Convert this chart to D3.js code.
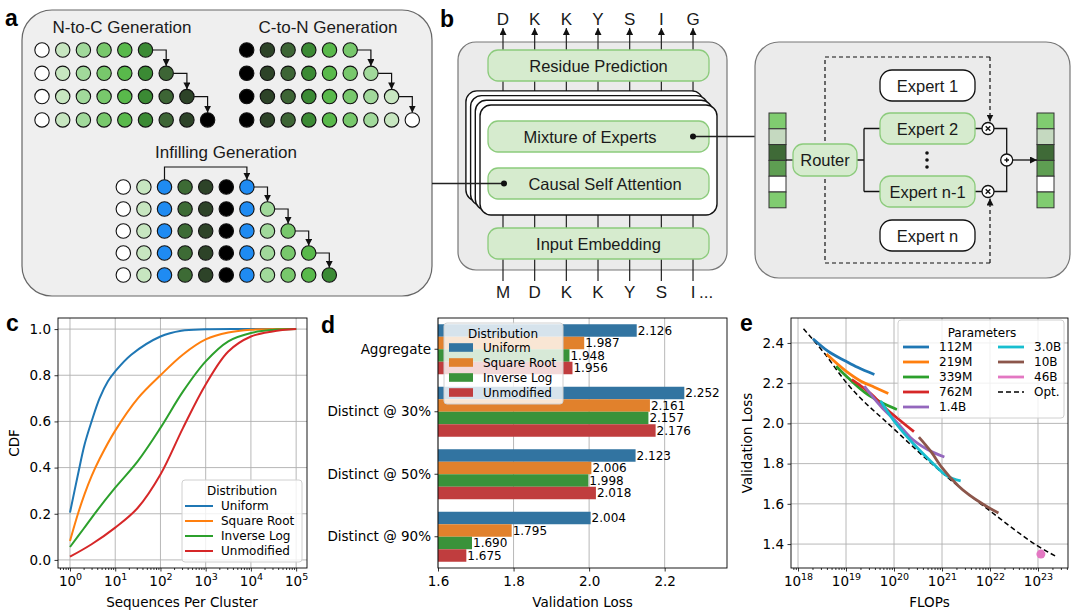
<!DOCTYPE html>
<meta charset="utf-8">
<style>
body { margin: 0; background: #fff; }
svg { display: block; }
.diag text { font-family: "Liberation Sans", Arial, sans-serif; fill: #1a1a1a; }
.plot text { font-family: "DejaVu Sans", sans-serif; fill: #000; }
.lbl { font-family: "Liberation Sans", Arial, sans-serif; font-weight: bold; font-size: 23px; fill: #000; }
</style>
<body>
<svg id="fig" width="1080" height="616"></svg>
<script src="https://d3js.org/d3.v7.min.js"></script>
<script>
"use strict";

// ---- panel c : cluster size CDF ----
var cdfNames = ["Uniform", "Square Root", "Inverse Log", "Unmodified"];
var cdfUniform = [[1,0.205],[1.5,0.37],[2.1,0.5],[3,0.6],[4.5,0.7],[6.9,0.774],[10,0.817],[22.6,0.889],[100,0.968],[290,0.993],[1000,0.999],[1e4,1],[1e5,1]];
var cdfSqrt = [[1,0.082],[1.5,0.2],[2.1,0.285],[3,0.363],[4.5,0.437],[10,0.56],[31.6,0.70],[100,0.80],[316,0.89],[1000,0.955],[3160,0.985],[1e4,0.997],[1e5,1]];
var cdfInvLog = [[1,0.056],[2,0.135],[4,0.215],[10,0.313],[31.6,0.428],[100,0.572],[316,0.73],[1000,0.86],[3160,0.947],[1e4,0.983],[3e4,0.996],[1e5,1]];
var cdfUnmod = [[1,0.014],[3,0.068],[10,0.14],[31.6,0.226],[100,0.37],[316,0.572],[1000,0.76],[3160,0.903],[1e4,0.968],[3e4,0.99],[1e5,1]];
var cdfXTicks = [1, 10, 100, 1e3, 1e4, 1e5];
var cdfYTicks = [0, 0.2, 0.4, 0.6, 0.8, 1.0];

// ---- panel d : validation loss per split ----
var lossGroups = ["Aggregate", "Distinct @ 30%", "Distinct @ 50%", "Distinct @ 90%"];
var lossUniform = [2.126, 2.252, 2.123, 2.004];
var lossSqrt = [1.987, 2.161, 2.006, 1.795];
var lossInvLog = [1.948, 2.157, 1.998, 1.690];
var lossUnmod = [1.956, 2.176, 2.018, 1.675];
var lossTicks = [1.6, 1.8, 2.0, 2.2];

// ---- panel e : loss vs compute ----
var paramNames = ["112M", "219M", "339M", "762M", "1.4B", "3.0B", "10B", "46B"];
var run112M = [[2.04e18,2.421],[4.2e18,2.359],[1e19,2.309],[1.74e19,2.279],[3.9e19,2.243]];
var run219M = [[3.9e18,2.345],[1e19,2.26],[2.05e19,2.21],[3.9e19,2.18],[7.6e19,2.149]];
var run339M = [[6.2e18,2.284],[9.3e18,2.243],[2.8e19,2.144],[4.9e19,2.11],[1.15e20,2.069]];
var run762M = [[1.32e19,2.218],[3.3e19,2.147],[6.3e19,2.08],[1.38e20,2.012],[2.6e20,1.959]];
var run1p4B = [[2.4e19,2.185],[5.25e19,2.086],[1.2e20,2.0],[2.2e20,1.93],[4.9e20,1.871],[1.12e21,1.833]];
var run3p0B = [[5.25e19,2.111],[1e20,2.012],[2.6e20,1.896],[5.75e20,1.813],[1.26e21,1.739],[2.45e21,1.714]];
var run10B = [[3.3e20,1.932],[5.75e20,1.863],[1e21,1.78],[2.2e21,1.689],[7.9e21,1.592],[1.5e22,1.554]];
var run46B = [[1.15e23,1.35]];
var optFrontier = [[1.3e18,2.471],[3.5e18,2.35],[1e19,2.205],[1e20,1.972],[1e21,1.755],[1e22,1.565],[1e23,1.39],[2.35e23,1.339]];
var flopTicks = [1e18, 1e19, 1e20, 1e21, 1e22, 1e23];
var lossYTicks = [1.4, 1.6, 1.8, 2.0, 2.2, 2.4];

var tab10 = ["#1f77b4", "#ff7f0e", "#2ca02c", "#d62728", "#9467bd", "#17becf", "#8c564b", "#e377c2"];
var muted = ["#3274a1", "#e1812c", "#3a923a", "#c03d3e"];

var svg = d3.select("#fig");
var defs = svg.append("defs");
defs.append("marker").attr("id", "arr")
  .attr("viewBox", "0 0 10 10").attr("refX", 10).attr("refY", 5)
  .attr("markerWidth", 7).attr("markerHeight", 7)
  .attr("markerUnits", "userSpaceOnUse").attr("orient", "auto")
  .append("path").attr("d", "M0,0L10,5L0,10z").attr("fill", "#111");

function panelLabel(t, x, y) {
  svg.append("text").attr("class", "lbl").attr("x", x).attr("y", y).text(t);
}

/* ================= panel a ================= */
var ga = svg.append("g").attr("class", "diag");
ga.append("rect").attr("x", 22).attr("y", 10).attr("width", 410).attr("height", 286)
  .attr("rx", 30).attr("fill", "#efefef").attr("stroke", "#666").attr("stroke-width", 1.2);

var greens = ["#ffffff", "#c7e6c0", "#a1d99b", "#78c86c", "#59b94b", "#3b8a34", "#3d6535", "#2d4328", "#000000"];
var blue = "#1f8bf2";
var infillHead = ["#ffffff", "#c7e6c0", blue, "#3d6b35", "#2d4328", "#000000", blue];
var infillTail = ["#a1d99b", "#78c86c", "#59b94b", "#3b8a34"];
var R = 7.2;

function dotGrid(g, x0, y0, dx, dy, rows) {
  rows.forEach(function (cols, ri) {
    var cy = y0 + ri * dy;
    if (ri < rows.length - 1) {
      var n = cols.length - 1;
      g.append("path")
        .attr("d", "M" + (x0 + n * dx + R) + "," + cy + "H" + (x0 + (n + 1) * dx) + "V" + (cy + dy - R))
        .attr("fill", "none").attr("stroke", "#111").attr("stroke-width", 1.2)
        .attr("marker-end", "url(#arr)");
    }
    cols.forEach(function (c, ci) {
      g.append("circle").attr("cx", x0 + ci * dx).attr("cy", cy).attr("r", R)
        .attr("fill", c).attr("stroke", "#111").attr("stroke-width", 1.1);
    });
  });
}

var nToC = [0, 1, 2, 3].map(function (i) { return greens.slice(0, 6 + i); });
var rev = greens.slice().reverse();
var cToN = [0, 1, 2, 3].map(function (i) { return rev.slice(0, 6 + i); });
var infill = [0, 1, 2, 3, 4].map(function (i) { return infillHead.concat(infillTail.slice(0, i)); });

ga.append("text").attr("x", 122).attr("y", 33).attr("text-anchor", "middle").attr("font-size", 17).text("N-to-C Generation");
ga.append("text").attr("x", 328).attr("y", 33).attr("text-anchor", "middle").attr("font-size", 17).text("C-to-N Generation");
ga.append("text").attr("x", 226).attr("y", 158).attr("text-anchor", "middle").attr("font-size", 17).text("Infilling Generation");
dotGrid(ga, 42, 50, 20.7, 23.3, nToC);
dotGrid(ga, 246.7, 50, 20.7, 23.3, cToN);
// infilling: jump from the first masked span to its end
ga.append("path")
  .attr("d", "M" + (123.3 + 2 * 20.6) + "," + (187 - R) + "V167H" + (123.3 + 6 * 20.6) + "V" + (187 - R))
  .attr("fill", "none").attr("stroke", "#111").attr("stroke-width", 1.2).attr("marker-end", "url(#arr)");
dotGrid(ga, 123.3, 187, 20.6, 22, infill);
panelLabel("a", 5, 26);

/* ================= panel b ================= */
var gb = svg.append("g").attr("class", "diag");
var outTok = ["D", "K", "K", "Y", "S", "I", "G"];
var inTok = ["M", "D", "K", "K", "Y", "S", "I"];
var tokX = function (i) { return 503 + i * 31.67; };
var boxGreen = "#d6ebce", edgeGreen = "#8ccb7c";

gb.append("rect").attr("x", 458).attr("y", 42).attr("width", 269).attr("height", 228)
  .attr("rx", 18).attr("fill", "#ebebeb").attr("stroke", "#777").attr("stroke-width", 1.2);
outTok.forEach(function (t, i) {
  gb.append("line").attr("x1", tokX(i)).attr("x2", tokX(i)).attr("y1", 92).attr("y2", 28)
    .attr("stroke", "#222").attr("stroke-width", 1.2).attr("marker-end", "url(#arr)");
  gb.append("text").attr("x", tokX(i)).attr("y", 25).attr("text-anchor", "middle").attr("font-size", 17).text(t);
});
inTok.forEach(function (t, i) {
  gb.append("line").attr("x1", tokX(i)).attr("x2", tokX(i)).attr("y1", 214).attr("y2", 281)
    .attr("stroke", "#222").attr("stroke-width", 1.2);
  gb.append("text").attr("x", tokX(i)).attr("y", 298).attr("text-anchor", "middle").attr("font-size", 17).text(t);
});
gb.append("text").attr("x", tokX(6) + 6).attr("y", 298).attr("font-size", 17).text("...");

function greenBox(g, x, y, w, h, label, tx) {
  g.append("rect").attr("x", x).attr("y", y).attr("width", w).attr("height", h).attr("rx", 10)
    .attr("fill", boxGreen).attr("stroke", edgeGreen).attr("stroke-width", 1.3);
  if (label) g.append("text").attr("x", tx == null ? x + w / 2 : tx).attr("y", y + h / 2 + 6)
    .attr("text-anchor", "middle").attr("font-size", 16.5).text(label);
}
greenBox(gb, 488, 50, 221, 31, "Residue Prediction");
[3, 2, 1, 0].forEach(function (k) {
  gb.append("rect").attr("x", 480 - 4.7 * k).attr("y", 105 - 4.7 * k).attr("width", 237).attr("height", 110)
    .attr("rx", 11).attr("fill", "#fff").attr("stroke", "#111").attr("stroke-width", 1.4);
});
greenBox(gb, 488, 121, 221, 31, "Mixture of Experts", 590);
greenBox(gb, 488, 168, 221, 31, "Causal Self Attention", 605);
greenBox(gb, 488, 228, 221, 31, "Input Embedding");

// connectors a -> b and b -> MoE detail
gb.append("line").attr("x1", 432).attr("x2", 504).attr("y1", 183.5).attr("y2", 183.5).attr("stroke", "#222").attr("stroke-width", 1.3);
gb.append("circle").attr("cx", 504).attr("cy", 183.5).attr("r", 3).attr("fill", "#111");
gb.append("line").attr("x1", 693).attr("x2", 755).attr("y1", 136.5).attr("y2", 136.5).attr("stroke", "#222").attr("stroke-width", 1.3);
gb.append("circle").attr("cx", 693).attr("cy", 136.5).attr("r", 3).attr("fill", "#111");
panelLabel("b", 440, 27);

/* ================= MoE detail ================= */
var gm = svg.append("g").attr("class", "diag");
gm.append("rect").attr("x", 755).attr("y", 42).attr("width", 315).attr("height", 236)
  .attr("rx", 24).attr("fill", "#ebebeb").attr("stroke", "#777").attr("stroke-width", 1.2);
gm.append("path").attr("d", "M990,57H825V263H990")
  .attr("fill", "none").attr("stroke", "#111").attr("stroke-width", 1.2).attr("stroke-dasharray", "4,3");
gm.append("path").attr("d", "M990,57V121.5")
  .attr("fill", "none").attr("stroke", "#111").attr("stroke-width", 1.2).attr("stroke-dasharray", "4,3").attr("marker-end", "url(#arr)");
gm.append("path").attr("d", "M990,263V198.5")
  .attr("fill", "none").attr("stroke", "#111").attr("stroke-width", 1.2).attr("stroke-dasharray", "4,3").attr("marker-end", "url(#arr)");

var tokCells = ["#80cc70", "#c5d9c0", "#3f6a37", "#5e9e52", "#ffffff", "#80cc70"];
[769, 1037].forEach(function (x) {
  tokCells.forEach(function (c, i) {
    gm.append("rect").attr("x", x).attr("y", 113 + i * 15.8).attr("width", 17).attr("height", 15.8)
      .attr("fill", c).attr("stroke", "#333").attr("stroke-width", 1);
  });
});
var wire = function (d) {
  gm.append("path").attr("d", d).attr("fill", "none").attr("stroke", "#111").attr("stroke-width", 1.3);
};
wire("M786,160H793");
wire("M857,160H864M864,128.5V191.5M864,128.5H880M864,191.5H880");
wire("M975,128.5H982M975,191.5H982");
wire("M994,128.5H1006.7V154M994,191.5H1006.7V166");
gm.append("path").attr("d", "M1012.7,160H1037").attr("stroke", "#111").attr("stroke-width", 1.3).attr("marker-end", "url(#arr)");

greenBox(gm, 793, 144, 64, 32, "Router");
function whiteBox(y, label) {
  gm.append("rect").attr("x", 880).attr("y", y).attr("width", 95).attr("height", 31).attr("rx", 12)
    .attr("fill", "#fff").attr("stroke", "#111").attr("stroke-width", 1.3);
  gm.append("text").attr("x", 927.5).attr("y", y + 21.5).attr("text-anchor", "middle").attr("font-size", 16.5).text(label);
}
whiteBox(70, "Expert 1");
greenBox(gm, 880, 113, 95, 31, "Expert 2");
greenBox(gm, 880, 176, 95, 31, "Expert n-1");
whiteBox(220, "Expert n");
[153, 160, 167].forEach(function (y) {
  gm.append("circle").attr("cx", 927).attr("cy", y).attr("r", 1.8).attr("fill", "#111");
});
function opCircle(x, y, plus) {
  gm.append("circle").attr("cx", x).attr("cy", y).attr("r", 6).attr("fill", "#fff").attr("stroke", "#111").attr("stroke-width", 1.3);
  var s = 2.3;
  var d = plus ? "M" + (x - s) + "," + y + "H" + (x + s) + "M" + x + "," + (y - s) + "V" + (y + s)
               : "M" + (x - s) + "," + (y - s) + "L" + (x + s) + "," + (y + s) + "M" + (x + s) + "," + (y - s) + "L" + (x - s) + "," + (y + s);
  gm.append("path").attr("d", d).attr("stroke", "#111").attr("stroke-width", 1.4);
}
opCircle(988, 128.5, false);
opCircle(988, 191.5, false);
opCircle(1006.7, 160, true);

/* ================= shared axis helpers ================= */
function styleAxis(g, fs) {
  g.select(".domain").remove();
  g.selectAll(".tick line").attr("stroke", "#000").attr("stroke-width", 0.8);
  g.selectAll(".tick text").attr("fill", "#000").attr("font-size", fs || 13.5).attr("font-family", "DejaVu Sans");
}
function powLabels(g) {
  g.selectAll(".tick text").text(null).each(function (d) {
    var t = d3.select(this);
    t.append("tspan").text("10");
    t.append("tspan").attr("font-size", "9.5px").attr("dy", "-0.62em").text(Math.round(Math.log10(d)));
  });
}
function minorVals(scale) {
  var dom = scale.domain(), out = [];
  for (var e = Math.floor(Math.log10(dom[0])); e <= Math.ceil(Math.log10(dom[1])); e++) {
    for (var k = 2; k < 10; k++) {
      var v = k * Math.pow(10, e);
      if (v >= dom[0] && v <= dom[1]) out.push(v);
    }
  }
  return out;
}
function frame(g, x0, y0, x1, y1) {
  g.append("rect").attr("x", x0).attr("y", y0).attr("width", x1 - x0).attr("height", y1 - y0)
    .attr("fill", "none").attr("stroke", "#000").attr("stroke-width", 0.9);
}
function gridLines(g, xs, ys, x, y) {
  var xr = x.range(), yr = y.range();
  g.selectAll(null).data(xs).join("line")
    .attr("x1", function (d) { return x(d); }).attr("x2", function (d) { return x(d); })
    .attr("y1", yr[0]).attr("y2", yr[1]).attr("stroke", "#b0b0b0").attr("stroke-width", 0.9);
  g.selectAll(null).data(ys).join("line")
    .attr("y1", function (d) { return y(d); }).attr("y2", function (d) { return y(d); })
    .attr("x1", xr[0]).attr("x2", xr[1]).attr("stroke", "#b0b0b0").attr("stroke-width", 0.9);
}

/* ================= panel c ================= */
var gc = svg.append("g").attr("class", "plot");
var cx = d3.scaleLog().domain([0.543, 173800]).range([58, 307]);
var cy = d3.scaleLinear().domain([-0.035, 1.048]).range([568, 318]);
gridLines(gc, cdfXTicks, cdfYTicks, cx, cy);
var cLine = d3.line().x(function (d) { return cx(d[0]); }).y(function (d) { return cy(d[1]); })
  .curve(d3.curveCatmullRom.alpha(0.5));
[cdfUniform, cdfSqrt, cdfInvLog, cdfUnmod].forEach(function (s, i) {
  gc.append("path").attr("d", cLine(s)).attr("fill", "none").attr("stroke", tab10[i]).attr("stroke-width", 2);
});
frame(gc, 58, 318, 307, 568);
var cAxX = gc.append("g").attr("transform", "translate(0,568)")
  .call(d3.axisBottom(cx).tickValues(cdfXTicks).tickSize(3.5).tickPadding(5));
styleAxis(cAxX); powLabels(cAxX);
var cAxXm = gc.append("g").attr("transform", "translate(0,568)")
  .call(d3.axisBottom(cx).tickValues(minorVals(cx)).tickSize(2).tickFormat(""));
styleAxis(cAxXm);
var cAxY = gc.append("g").attr("transform", "translate(58,0)")
  .call(d3.axisLeft(cy).tickValues(cdfYTicks).tickFormat(d3.format(".1f")).tickSize(3.5).tickPadding(3.5));
styleAxis(cAxY);
gc.append("text").attr("x", 182).attr("y", 607).attr("text-anchor", "middle").attr("font-size", 13.5).text("Sequences Per Cluster");
gc.append("text").attr("transform", "translate(19,443) rotate(-90)").attr("text-anchor", "middle").attr("font-size", 13.5).text("CDF");

var cLeg = gc.append("g");
cLeg.append("rect").attr("x", 182).attr("y", 480).attr("width", 120).attr("height", 82).attr("rx", 3)
  .attr("fill", "#fff").attr("fill-opacity", 0.8).attr("stroke", "#d0d0d0");
cLeg.append("text").attr("x", 242).attr("y", 495).attr("text-anchor", "middle").attr("font-size", 12).text("Distribution");
cdfNames.forEach(function (n, i) {
  var y = 506 + i * 15;
  cLeg.append("line").attr("x1", 185).attr("x2", 213).attr("y1", y).attr("y2", y).attr("stroke", tab10[i]).attr("stroke-width", 2);
  cLeg.append("text").attr("x", 221).attr("y", y + 4.3).attr("font-size", 12).text(n);
});
panelLabel("c", 6, 331);

/* ================= panel d ================= */
var gd = svg.append("g").attr("class", "plot");
var dx = d3.scaleLinear().domain([1.6, 2.365]).range([438, 727]);
var dy = d3.scaleBand().domain(lossGroups).range([318, 568]).paddingInner(0.2).paddingOuter(0.1);
var dsub = d3.scaleBand().domain(cdfNames).range([0, dy.bandwidth()]);
gridLines(gd, lossTicks, [], dx, d3.scaleLinear().range([568, 318]));
[lossUniform, lossSqrt, lossInvLog, lossUnmod].forEach(function (vals, si) {
  var name = cdfNames[si];
  gd.selectAll(null).data(vals).join("rect")
    .attr("x", dx(1.6))
    .attr("y", function (d, i) { return dy(lossGroups[i]) + dsub(name); })
    .attr("width", function (d) { return dx(d) - dx(1.6); })
    .attr("height", dsub.bandwidth())
    .attr("fill", muted[si]);
  gd.selectAll(null).data(vals).join("text")
    .attr("x", function (d) { return dx(d) + 1; })
    .attr("y", function (d, i) { return dy(lossGroups[i]) + dsub(name) + dsub.bandwidth() / 2 + 4.4; })
    .attr("font-size", 12)
    .text(d3.format(".3f"));
});
frame(gd, 438, 318, 727, 568);
var dAxX = gd.append("g").attr("transform", "translate(0,568)")
  .call(d3.axisBottom(dx).tickValues(lossTicks).tickFormat(d3.format(".1f")).tickSize(3.5).tickPadding(5));
styleAxis(dAxX);
var dAxY = gd.append("g").attr("transform", "translate(438,0)")
  .call(d3.axisLeft(dy).tickSize(3.5).tickPadding(3.5));
styleAxis(dAxY);
gd.append("text").attr("x", 582.5).attr("y", 607).attr("text-anchor", "middle").attr("font-size", 13.5).text("Validation Loss");

var dLeg = gd.append("g");
dLeg.append("rect").attr("x", 444).attr("y", 323).attr("width", 119).attr("height", 81).attr("rx", 3)
  .attr("fill", "#fff").attr("fill-opacity", 0.8).attr("stroke", "#d0d0d0");
dLeg.append("text").attr("x", 503).attr("y", 337.5).attr("text-anchor", "middle").attr("font-size", 12).text("Distribution");
cdfNames.forEach(function (n, i) {
  var y = 347.5 + i * 15;
  dLeg.append("rect").attr("x", 449).attr("y", y - 4.3).attr("width", 24).attr("height", 8.6).attr("fill", muted[i]);
  dLeg.append("text").attr("x", 483).attr("y", y + 4.3).attr("font-size", 12).text(n);
});
panelLabel("d", 321, 333);

/* ================= panel e ================= */
var ge = svg.append("g").attr("class", "plot");
var ex = d3.scaleLog().domain([7.14e17, 4.22e23]).range([791, 1068]);
var ey = d3.scaleLinear().domain([1.281, 2.524]).range([568, 318]);
gridLines(ge, flopTicks, lossYTicks, ex, ey);
var eLine = d3.line().x(function (d) { return ex(d[0]); }).y(function (d) { return ey(d[1]); }).curve(d3.curveMonotoneX);
ge.append("path").attr("d", eLine(optFrontier)).attr("fill", "none").attr("stroke", "#000")
  .attr("stroke-width", 1.5).attr("stroke-dasharray", "5,3");
var runs = [run112M, run219M, run339M, run762M, run1p4B, run3p0B, run10B];
runs.forEach(function (s, i) {
  ge.append("path").attr("d", eLine(s)).attr("fill", "none").attr("stroke", tab10[i])
    .attr("stroke-width", 2.8).attr("stroke-linecap", "butt");
});
ge.selectAll(null).data(run46B).join("circle")
  .attr("cx", function (d) { return ex(d[0]); }).attr("cy", function (d) { return ey(d[1]); })
  .attr("r", 4.5).attr("fill", tab10[7]);
frame(ge, 791, 318, 1068, 568);
var eAxX = ge.append("g").attr("transform", "translate(0,568)")
  .call(d3.axisBottom(ex).tickValues(flopTicks).tickSize(3.5).tickPadding(5));
styleAxis(eAxX); powLabels(eAxX);
var eAxXm = ge.append("g").attr("transform", "translate(0,568)")
  .call(d3.axisBottom(ex).tickValues(minorVals(ex)).tickSize(2).tickFormat(""));
styleAxis(eAxXm);
var eAxY = ge.append("g").attr("transform", "translate(791,0)")
  .call(d3.axisLeft(ey).tickValues(lossYTicks).tickFormat(d3.format(".1f")).tickSize(3.5).tickPadding(3.5));
styleAxis(eAxY);
ge.append("text").attr("x", 929.5).attr("y", 607).attr("text-anchor", "middle").attr("font-size", 13.5).text("FLOPs");
ge.append("text").attr("transform", "translate(752,443) rotate(-90)").attr("text-anchor", "middle").attr("font-size", 13.5).text("Validation Loss");

var eLeg = ge.append("g");
eLeg.append("rect").attr("x", 898).attr("y", 320).attr("width", 166).attr("height", 98).attr("rx", 3)
  .attr("fill", "#fff").attr("fill-opacity", 0.8).attr("stroke", "#d0d0d0");
eLeg.append("text").attr("x", 982).attr("y", 336.5).attr("text-anchor", "middle").attr("font-size", 12).text("Parameters");
var legItems = paramNames.map(function (n, i) { return { name: n, color: tab10[i], dash: null }; });
legItems.push({ name: "Opt.", color: "#000", dash: "5,3" });
legItems.forEach(function (it, i) {
  var col = i < 5 ? 0 : 1, row = i < 5 ? i : i - 5;
  var lx = col ? 998 : 903, y = 347 + row * 15;
  eLeg.append("line").attr("x1", lx).attr("x2", lx + 26).attr("y1", y).attr("y2", y)
    .attr("stroke", it.color).attr("stroke-width", it.dash ? 1.5 : 2.8).attr("stroke-dasharray", it.dash);
  eLeg.append("text").attr("x", lx + 36).attr("y", y + 4.3).attr("font-size", 12).text(it.name);
});
panelLabel("e", 740, 331);
</script>
</body>
